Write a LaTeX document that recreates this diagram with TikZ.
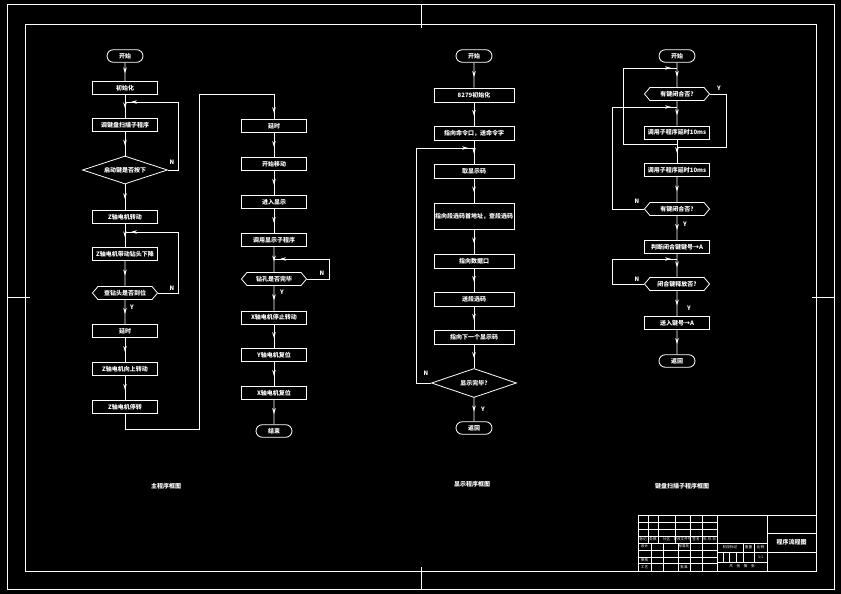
\documentclass[tikz,border=0pt]{standalone}
\usepackage{fontspec}
\newfontfamily\cjk{Noto Sans CJK SC}
\usetikzlibrary{shapes.geometric,shapes.misc,shapes.symbols,arrows.meta,decorations.markings}
\tikzset{
  txt/.style={font=\cjk\bfseries\fontsize{6}{7}\selectfont, text=white},
  box/.style={txt, draw=white, rectangle, line width=0.8pt, minimum width=65pt, minimum height=13pt, inner sep=1pt},
  wbox/.style={box, minimum width=80pt, minimum height=14pt},
  term/.style={txt, draw=white, rounded rectangle, line width=0.8pt, minimum width=38pt, minimum height=12.5pt, inner sep=1pt},
  dia/.style={txt, draw=white, diamond, aspect=3, line width=0.8pt, minimum width=85pt, minimum height=28pt, inner sep=0pt},
  hexa/.style={txt, draw=white, signal, signal to=west and east, signal pointer angle=100, line width=0.8pt, minimum width=65pt, minimum height=13pt, inner sep=1pt},
  lbl/.style={font=\cjk\bfseries\fontsize{6}{7}\selectfont, text=white, inner sep=0pt},
  capt/.style={font=\cjk\bfseries\fontsize{6}{7}\selectfont, text=white, inner sep=0pt},
  tb/.style={font=\cjk\fontsize{3.6}{4}\selectfont, text=white, inner sep=0pt},
  flow/.style={postaction={decorate,decoration={markings,mark=at position 0.58 with {\arrow{Stealth[length=6pt,width=3.6pt]}}}}},
  loopar/.style={postaction={decorate,decoration={markings,mark=at position -6pt with {\arrow{Stealth[length=6pt,width=3.6pt]}}}}},
}
\begin{document}
\begin{tikzpicture}[x=1pt,y=-1pt,color=white,line width=0.8pt]
\fill[black] (0,0) rectangle (841,594);
\useasboundingbox (0,0) rectangle (841,594);
% frame
\draw (7,4) rectangle (834,589);
\draw (25,24) rectangle (816,571);
\draw (421,4) -- (421,28);
\draw (421,567) -- (421,589);
\draw (7,297) -- (30,297);
\draw (812,297) -- (834,297);

% ---------- column 1 ----------
\node[term] (s1) at (125,56) {开始};
\node[box] (n1) at (125,88) {初始化};
\node[box] (n2) at (125,125) {调键盘扫描子程序};
\node[dia] (d1) at (125,170) {启动键是否按下};
\node[box] (n3) at (125,217) {Z轴电机转动};
\node[box] (n4) at (125,254) {Z轴电机带动钻头下降};
\node[hexa] (h1) at (125,293) {查钻头是否到位};
\node[box] (n5) at (125,331) {延时};
\node[box] (n6) at (125,369) {Z轴电机向上转动};
\node[box] (n7) at (125,407) {Z轴电机停转};
\foreach \a/\b in {s1/n1,n1/n2,n2/d1,d1/n3,n3/n4,n4/h1,h1/n5,n5/n6,n6/n7}
  \draw[flow] (\a) -- (\b);
\coordinate (j1) at (125,102);
\coordinate (k1) at (178,102);
\draw[loopar] (d1.east) -| (k1) -- (j1);
\coordinate (j2) at (125,232);
\coordinate (k2) at (178,232);
\draw[loopar] (h1.east) -| (k2) -- (j2);
\node[lbl] (l1) at (172,162) {N};
\node[lbl] (l2) at (172,288) {N};
\node[lbl] (l3) at (132,307) {Y};
\coordinate (c1) at (125,429);
\coordinate (c2) at (199,429);
\coordinate (c3) at (199,94);
\coordinate (c4) at (274,94);

% ---------- column 2 ----------
\node[box] (m1) at (274,126) {延时};
\node[box] (m2) at (274,164) {开始移动};
\node[box] (m3) at (274,202) {进入显示};
\node[box] (m4) at (274,240) {调用显示子程序};
\node[hexa] (h2) at (274,279) {钻孔是否完毕};
\node[box] (m5) at (274,317.5) {X轴电机停止转动};
\node[box] (m6) at (274,355) {Y轴电机复位};
\node[box] (m7) at (274,393) {X轴电机复位};
\node[term] (e2) at (274,431) {结束};
\draw[loopar] (n7.south) -- (c1) -- (c2) -- (c3) -- (c4) -- (m1.north);
\foreach \a/\b in {m1/m2,m2/m3,m3/m4,m4/h2,h2/m5,m5/m6,m6/m7,m7/e2}
  \draw[flow] (\a) -- (\b);
\coordinate (jm) at (274,259);
\coordinate (km) at (329,259);
\draw[loopar] (h2.east) -| (km) -- (jm);
\node[lbl] (l4) at (322,273) {N};
\node[lbl] (l5) at (282,292) {Y};

% ---------- column 3 ----------
\node[term] (s3) at (474,56) {开始};
\node[wbox] (p1) at (474,95) {8279初始化};
\node[wbox] (p2) at (474,133) {指向命令口，送命令字};
\node[wbox] (p3) at (474,171) {取显示码};
\node[wbox, minimum height=26pt] (p4) at (474,216) {指向段选码首地址，查段选码};
\node[wbox] (p5) at (474,261) {指向数据口};
\node[wbox] (p6) at (474,299) {送段选码};
\node[wbox] (p7) at (474,337) {指向下一个显示码};
\node[dia, minimum width=85pt, minimum height=29pt] (d3) at (474,383) {显示完毕?};
\node[term] (r3) at (474,428) {返回};
\foreach \a/\b in {s3/p1,p1/p2,p2/p3,p3/p4,p4/p5,p5/p6,p6/p7,p7/d3,d3/r3}
  \draw[flow] (\a) -- (\b);
\coordinate (jp) at (474,148);
\coordinate (kp) at (416,148);
\draw[loopar] (d3.west) -| (kp) -- (jp);
\node[lbl] (l6) at (426,373) {N};
\node[lbl] (l7) at (483,409) {Y};

% ---------- column 4 ----------
\node[term] (s4) at (677,56) {开始};
\node[hexa] (q1) at (677,94) {有键闭合否?};
\node[box] (q2) at (677,132.5) {调用子程序延时10ms};
\node[box] (q3) at (677,170) {调用子程序延时10ms};
\node[hexa] (q4) at (677,209) {有键闭合否?};
\node[box] (q5) at (677,247) {判断闭合键键号→A};
\node[hexa] (q6) at (677,284) {闭合键释放否?};
\node[box] (q7) at (677,323) {送入键号→A};
\node[term] (r4) at (677,361) {返回};
\foreach \a/\b in {s4/q1,q1/q2,q2/q3,q3/q4,q4/q5,q5/q6,q6/q7,q7/r4}
  \draw[flow] (\a) -- (\b);
\coordinate (jq1) at (677,147);
\coordinate (kq1) at (726,147);
\draw (q1.east) -| (kq1) -- (jq1);
\coordinate (jq0a) at (677,144);
\coordinate (kq0a) at (623,144);
\coordinate (kq0b) at (623,68);
\coordinate (jq0) at (677,68);
\draw[loopar] (jq0a) -- (kq0a) -- (kq0b) -- (jq0);
\coordinate (jq2) at (677,107);
\coordinate (kq2) at (612,107);
\draw[loopar] (q4.west) -| (kq2) -- (jq2);
\coordinate (jq3) at (677,259);
\coordinate (kq3) at (612,259);
\draw[loopar] (q6.west) -| (kq3) -- (jq3);
\node[lbl] (l8) at (719,88) {Y};
\node[lbl] (l9) at (637,201) {N};
\node[lbl] (l10) at (685,224) {Y};
\node[lbl] (l11) at (637,279) {N};
\node[lbl] (l12) at (689,308) {Y};

% captions
\node[capt] (cap1) at (166,486) {主程序框图};
\node[capt] (cap2) at (472,484) {显示程序框图};
\node[capt] (cap3) at (682,486) {键盘扫描子程序框图};

% ---------- title block ----------
\begin{scope}[line width=0.6pt]
\draw (638,515) rectangle (816,571);
\draw (717,515) -- (717,571);
\draw (767,515) -- (767,571);
\foreach \y in {522,529,536,543,550,557,563} \draw (638,\y) -- (717,\y);
\foreach \x in {648,658,675,690,702} \draw (\x,515) -- (\x,543);
\foreach \x in {651,663,678,690,702} \draw (\x,543) -- (\x,571);
\draw (717,543) -- (767,543);
\draw (717,552) -- (767,552);
\draw (717,562) -- (767,562);
\foreach \x in {743,754} \draw (\x,543) -- (\x,552);
\foreach \x in {723,729,736,743,754} \draw (\x,552) -- (\x,562);
\draw (767,533) -- (816,533);
\draw (767,552) -- (816,552);
\end{scope}
\node[tb] (t1) at (643,539.5) {标记};
\node[tb] (t2) at (653,539.5) {处数};
\node[tb] (t3) at (666.5,539.5) {分区};
\node[tb] (t4) at (682.5,539.5) {更改文件号};
\node[tb] (t5) at (696,539.5) {签名};
\node[tb] (t6) at (709.5,539.5) {年.月.日};
\node[tb] (t7) at (644.5,546.5) {设计};
\node[tb] (t8) at (684,546.5) {标准化};
\node[tb] (t9) at (644.5,560) {审核};
\node[tb] (t10) at (644.5,567) {工艺};
\node[tb] (t11) at (684,567) {批准};
\node[tb] (t12) at (730,547.5) {阶段标记};
\node[tb] (t13) at (748.5,547.5) {重量};
\node[tb] (t14) at (760.5,547.5) {比例};
\node[tb] (t15) at (760.5,557) {1:1};
\node[tb] (t16) at (742,566.5) {共\quad 张\quad 第\quad 张};
\node[font=\cjk\fontsize{6}{7}\selectfont\bfseries, text=white, inner sep=0pt] (t17) at (791.5,542.5) {程序流程图};
\end{tikzpicture}
\end{document}
